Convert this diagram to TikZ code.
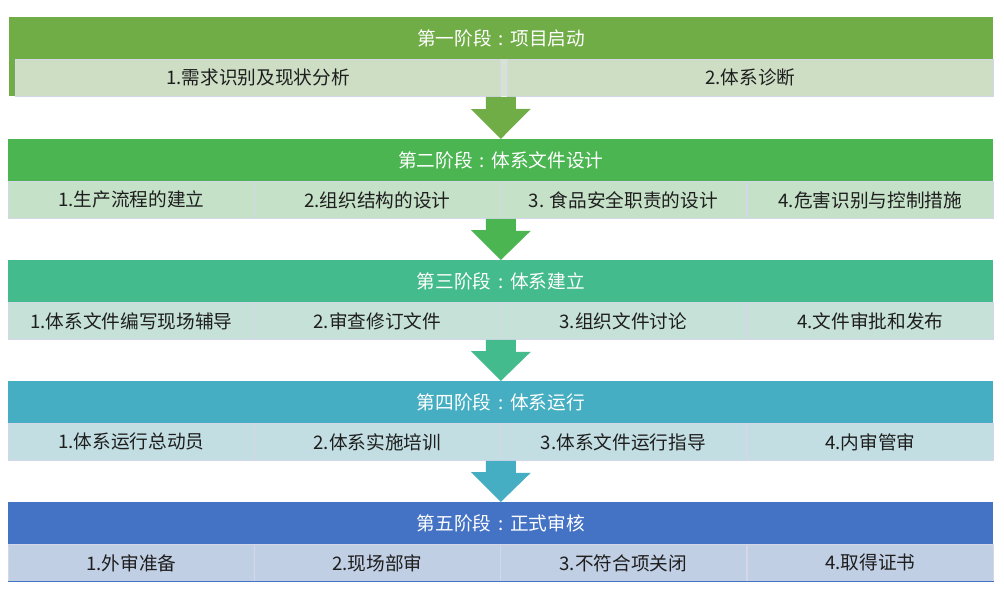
\documentclass[tikz,border=0pt]{standalone}
\usepackage{fontspec}
\newfontfamily\cjk{Noto Sans CJK SC}
\definecolor{hA}{HTML}{70AD47}\definecolor{sA}{HTML}{CDDEC5}
\definecolor{hB}{HTML}{4BB552}\definecolor{sB}{HTML}{C5E1C8}
\definecolor{hC}{HTML}{44BB8C}\definecolor{sC}{HTML}{C5E1D8}
\definecolor{hD}{HTML}{45AEC2}\definecolor{sD}{HTML}{C2DEE3}
\definecolor{hE}{HTML}{4472C4}\definecolor{sE}{HTML}{C1CFE5}
\definecolor{bord}{HTML}{D3D7E8}
\definecolor{gapA}{HTML}{D6E3D2}
\definecolor{txt}{HTML}{1E1E1E}
\newcommand\mycolon{\hspace{0.36em}:\hspace{0.36em}}
\begin{document}
\begin{tikzpicture}[x=0.75pt,y=-0.75pt,
  font=\cjk\fontsize{14}{16}\selectfont,
  hdr/.style={draw=none,minimum width=738.75pt,minimum height=31.5pt,inner sep=0pt,text=white,anchor=north west},
  subbox/.style={draw=bord,line width=0.6pt,minimum width=184.5pt,minimum height=27.75pt,inner sep=0pt,anchor=north west,text=txt},
  blockarrow/.style={draw=none}]
\useasboundingbox (0,0) rectangle (1004,608);
% ---- Stage 1
\fill[hA] (9,17) rectangle (993,96);
\node[hdr,fill=hA,minimum width=738pt] (h1) at (9,17) {第一阶段\mycolon 项目启动};
\fill[gapA] (500,59) rectangle (507,96);
\node[subbox,fill=sA,minimum width=363.75pt] (s1a) at (15,59) {1.需求识别及现状分析};
\node[subbox,fill=sA,minimum width=364.5pt] (s1b) at (507,59) {2.体系诊断};
% ---- Stage 2
\node[hdr,fill=hB] (h2) at (8,139) {第二阶段\mycolon 体系文件设计};
\node[subbox,fill=sB] (s2a) at (8,181) {1.生产流程的建立};
\node[subbox,fill=sB] (s2b) at (254,181) {2.组织结构的设计};
\node[subbox,fill=sB] (s2c) at (500,181) {3. 食品安全职责的设计};
\node[subbox,fill=sB] (s2d) at (747,181) {4.危害识别与控制措施};
% ---- Stage 3
\node[hdr,fill=hC] (h3) at (8,260) {第三阶段\mycolon 体系建立};
\node[subbox,fill=sC] (s3a) at (8,302) {1.体系文件编写现场辅导};
\node[subbox,fill=sC] (s3b) at (254,302) {2.审查修订文件};
\node[subbox,fill=sC] (s3c) at (500,302) {3.组织文件讨论};
\node[subbox,fill=sC] (s3d) at (747,302) {4.文件审批和发布};
% ---- Stage 4
\node[hdr,fill=hD] (h4) at (8,381) {第四阶段\mycolon 体系运行};
\node[subbox,fill=sD] (s4a) at (8,423) {1.体系运行总动员};
\node[subbox,fill=sD] (s4b) at (254,423) {2.体系实施培训};
\node[subbox,fill=sD] (s4c) at (500,423) {3.体系文件运行指导};
\node[subbox,fill=sD] (s4d) at (747,423) {4.内审管审};
% ---- Stage 5
\node[hdr,fill=hE] (h5) at (8,502) {第五阶段\mycolon 正式审核};
\node[subbox,fill=sE] (s5a) at (8,544) {1.外审准备};
\node[subbox,fill=sE] (s5b) at (254,544) {2.现场部审};
\node[subbox,fill=sE] (s5c) at (500,544) {3.不符合项关闭};
\node[subbox,fill=sE] (s5d) at (747,544) {4.取得证书};
\draw[hE,line width=0.8pt] (s5a.south west) -- (s5d.south east);
% ---- Arrows
\fill[blockarrow,hA] (h2.north |- s1a.south) ++(-15,0) -- ++(30,0) -- ++(0,12) -- ++(15,0) -- (h2.north) -- ++(-30,-30) -- ++(15,0) -- cycle;
\fill[blockarrow,hB] (h3.north |- s2b.south) ++(-15,0) -- ++(30,0) -- ++(0,12) -- ++(15,0) -- (h3.north) -- ++(-30,-30) -- ++(15,0) -- cycle;
\fill[blockarrow,hC] (h4.north |- s3b.south) ++(-15,0) -- ++(30,0) -- ++(0,12) -- ++(15,0) -- (h4.north) -- ++(-30,-30) -- ++(15,0) -- cycle;
\fill[blockarrow,hD] (h5.north |- s4b.south) ++(-15,0) -- ++(30,0) -- ++(0,12) -- ++(15,0) -- (h5.north) -- ++(-30,-30) -- ++(15,0) -- cycle;
\end{tikzpicture}
\end{document}
